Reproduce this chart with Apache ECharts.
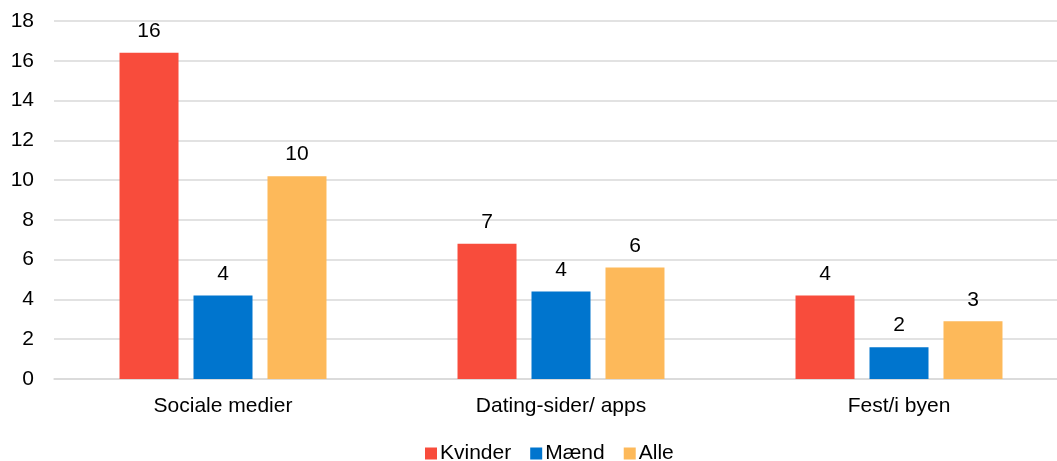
<!DOCTYPE html>
<html>
<head>
<meta charset="utf-8">
<script src="https://cdn.jsdelivr.net/npm/echarts@6/dist/echarts.min.js"></script>
<style>
	html, body { margin: 0; padding: 0; background: #fff; }
	#chart { width: 1057px; height: 461px; }
</style>
</head>
<body>
<div id="chart"></div>
<script>
	var categories = ['Sociale medier', 'Dating-sider/ apps', 'Fest/i byen'];
	var kvinder = [16.4, 6.8, 4.2];
	var maend = [4.2, 4.4, 1.6];
	var alle = [10.2, 5.6, 2.9];
	var yTicks = [0, 18, 2]; // min, max, interval

	var font = 'Liberation Sans, Arial, sans-serif';

	function bar(name, data, color) {
		return {
			name: name,
			type: 'bar',
			data: data,
			barWidth: 59,
			barGap: '25.4%',
			itemStyle: { color: color },
			label: {
				show: true,
				position: 'top',
				distance: 11,
				color: '#000',
				fontFamily: font,
				fontSize: 21,
				formatter: function(p) { return Math.round(p.value); }
			}
		};
	}

	var myChart = echarts.init(document.getElementById('chart'));
	myChart.setOption({
		animation: false,
		grid: { left: 54, width: 1014, top: 21, bottom: 82, outerBoundsMode: 'none' },
		legend: {
			top: 438,
			left: 420,
			itemWidth: 12,
			itemHeight: 12,
			itemGap: 19,
			icon: 'rect',
			textStyle: { fontFamily: font, fontSize: 21, color: '#000', padding: [0, 0, 0, -2] },
			data: ['Kvinder', 'Mænd', 'Alle']
		},
		xAxis: {
			type: 'category',
			data: categories,
			axisLine: { lineStyle: { color: '#d9d9d9', width: 1.5 } },
			axisTick: { show: false },
			axisLabel: { margin: 17, color: '#000', fontFamily: font, fontSize: 21 }
		},
		yAxis: {
			type: 'value',
			min: yTicks[0],
			max: yTicks[1],
			interval: yTicks[2],
			axisLine: { show: false },
			axisTick: { show: false },
			splitLine: { lineStyle: { color: '#d9d9d9', width: 1.5 } },
			axisLabel: { margin: 20, color: '#000', fontFamily: font, fontSize: 21 }
		},
		series: [
			bar('Kvinder', kvinder, '#f84c3c'),
			bar('Mænd', maend, '#0075ce'),
			bar('Alle', alle, '#fdb95a')
		]
	});
</script>
</body>
</html>
